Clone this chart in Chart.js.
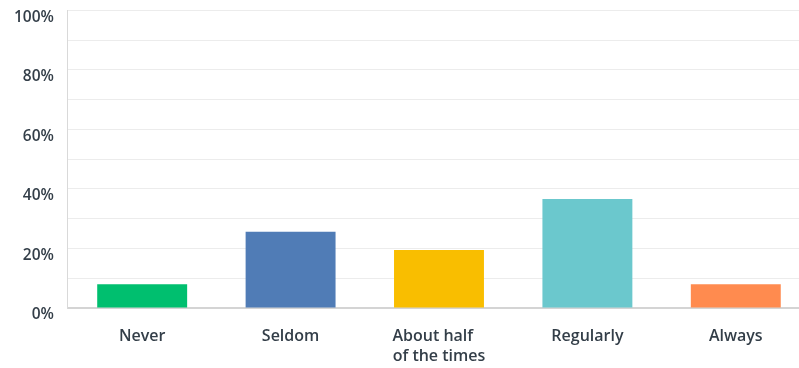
<!DOCTYPE html>
<html>
<head>
<meta charset="utf-8">
<script src="https://cdn.jsdelivr.net/npm/chart.js@4"></script>
<style>
  html, body { margin: 0; padding: 0; background: #fff; overflow: hidden; }
  #wrap { position: relative; width: 810px; height: 401px; margin-top: -13px; }
</style>
</head>
<body>
<div id="wrap"><canvas id="c"></canvas></div>
<script>
const categories = ['Never', 'Seldom', ['About half   ', 'of the times'], 'Regularly', 'Always'];
const values = [8.0, 25.6, 19.5, 36.6, 8.0];
const barColors = ['#00BF6F', '#507CB6', '#F9BE00', '#6BC8CD', '#FF8B4F'];
const yTickValues = [0, 20, 40, 60, 80, 100];
const yTickLabels = ['0%', '20%', '40%', '60%', '80%', '100%'];

const fontFamily = '"Open Sans", "Noto Sans", sans-serif';

new Chart(document.getElementById('c'), {
  type: 'bar',
  data: {
    labels: categories,
    datasets: [{
      data: values,
      backgroundColor: barColors,
      borderWidth: 0,
      categoryPercentage: 1,
      barPercentage: 0.606
    }]
  },
  options: {
    responsive: true,
    maintainAspectRatio: false,
    animation: false,
    layout: { padding: { top: 0, right: 0, bottom: 4, left: 0 } },
    plugins: { legend: { display: false }, tooltip: { enabled: false } },
    scales: {
      x: {
        offset: true,
        grid: { display: false, drawTicks: false },
        border: { display: true, color: '#d4d4d4', width: 2 },
        ticks: {
          color: '#333e48',
          padding: 18,
          maxRotation: 0,
          autoSkip: false,
          font: { family: fontFamily, size: 16, weight: '600', lineHeight: 1.25 }
        }
      },
      y: {
        min: 0,
        max: 100,
        grid: { color: '#ececec', lineWidth: 1, drawTicks: false },
        border: { display: true, color: '#d9d9d9', width: 1 },
        ticks: {
          stepSize: 10,
          padding: 14,
          labelOffset: 7,
          color: '#333e48',
          font: { family: fontFamily, size: 15.5, weight: '600' },
          callback: function (v) {
            const i = yTickValues.indexOf(v);
            return i >= 0 ? yTickLabels[i] : '';
          }
        }
      }
    }
  }
});
</script>
</body>
</html>
